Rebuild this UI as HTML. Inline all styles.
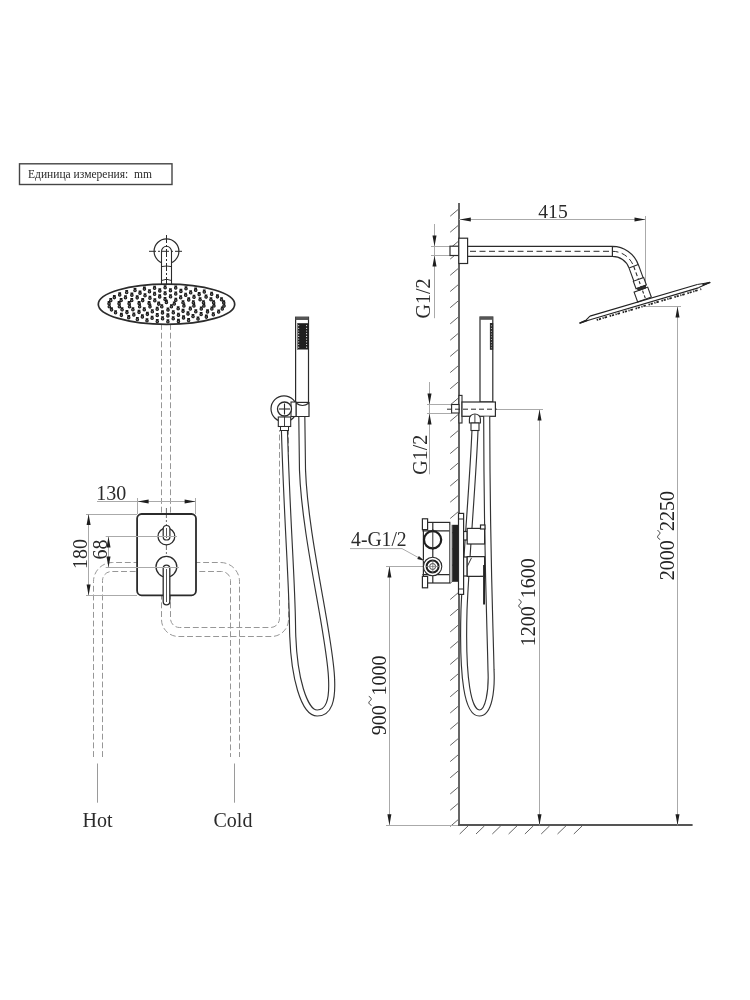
<!DOCTYPE html>
<html><head><meta charset="utf-8"><style>
html,body{margin:0;padding:0;background:#fff;width:750px;height:1000px;overflow:hidden}
svg{display:block;will-change:transform}
</style></head><body>
<svg width="750" height="1000" viewBox="0 0 750 1000">
<rect x="19.5" y="163.8" width="152.5" height="20.7" fill="none" stroke="#454545" stroke-width="1.4"/>
<text x="28" y="178.3" font-family="Liberation Serif" font-size="12.6" fill="#2a2a2a" text-anchor="start" textLength="124" lengthAdjust="spacingAndGlyphs">Единица измерения:&#160; mm</text>
<g fill="none" stroke="#979797" stroke-width="1" stroke-dasharray="5.9,2.8">
<path d="M161.5,324 V619.5 A17,17 0 0 0 178.5,636.5 H271.5 A17,17 0 0 0 288.5,619.5 V430"/>
<path d="M170.5,324 V618.5 A9,9 0 0 0 179.5,627.5 H270.5 A9,9 0 0 0 279.5,618.5 V430"/>
<path d="M93.5,757 V581.5 A19,19 0 0 1 112.5,562.5 H220.5 A19,19 0 0 1 239.5,581.5 V757"/>
<path d="M102.5,757 V580.5 A9,9 0 0 1 111.5,571.5 H221.5 A9,9 0 0 1 230.5,580.5 V757"/>
</g>
<line x1="97.5" y1="763.5" x2="97.5" y2="802.7" stroke="#9a9a9a" stroke-width="1" />
<line x1="234.5" y1="763.5" x2="234.5" y2="802.7" stroke="#9a9a9a" stroke-width="1" />
<text x="82.5" y="826.6" font-family="Liberation Serif" font-size="20" fill="#2a2a2a" text-anchor="start">Hot</text>
<text x="213.5" y="826.6" font-family="Liberation Serif" font-size="20" fill="#2a2a2a" text-anchor="start">Cold</text>
<circle cx="166.5" cy="251.3" r="12.4" fill="none" stroke="#2b2b2b" stroke-width="1.2"/>
<path d="M161.5,285 V251.3 A5,5 0 0 1 171.5,251.3 V285" fill="white" stroke="#2b2b2b" stroke-width="1.1"/>
<line x1="149" y1="251.3" x2="184" y2="251.3" stroke="#2b2b2b" stroke-width="1" stroke-dasharray="7,2,2,2"/>
<path d="M161.5,266.6 Q166.5,265.4 171.5,266.6 M161.5,280.5 Q166.5,278 171.5,280.5" fill="none" stroke="#2b2b2b" stroke-width="1"/>
<line x1="166.5" y1="235" x2="166.5" y2="300" stroke="#2b2b2b" stroke-width="1" stroke-dasharray="8,2,2,2"/>
<ellipse cx="166.5" cy="304.2" rx="68.2" ry="20.1" fill="white" stroke="#2b2b2b" stroke-width="1.7"/>
<path d="M225.22,305.96a1.25,1.25 0 1 0 -2.5,0a1.25,1.25 0 1 0 2.5,0M222.57,303.96h2.8 M223.51,309.06a1.25,1.25 0 1 0 -2.5,0a1.25,1.25 0 1 0 2.5,0M220.86,307.06h2.8 M219.91,312.01a1.25,1.25 0 1 0 -2.5,0a1.25,1.25 0 1 0 2.5,0M217.26,310.01h2.8 M214.54,314.71a1.25,1.25 0 1 0 -2.5,0a1.25,1.25 0 1 0 2.5,0M211.89,312.71h2.8 M207.57,317.08a1.25,1.25 0 1 0 -2.5,0a1.25,1.25 0 1 0 2.5,0M204.92,315.08h2.8 M199.24,319.03a1.25,1.25 0 1 0 -2.5,0a1.25,1.25 0 1 0 2.5,0M196.59,317.03h2.8 M189.84,320.49a1.25,1.25 0 1 0 -2.5,0a1.25,1.25 0 1 0 2.5,0M187.19,318.49h2.8 M179.69,321.42a1.25,1.25 0 1 0 -2.5,0a1.25,1.25 0 1 0 2.5,0M177.04,319.42h2.8 M169.13,321.79a1.25,1.25 0 1 0 -2.5,0a1.25,1.25 0 1 0 2.5,0M166.48,319.79h2.8 M158.53,321.57a1.25,1.25 0 1 0 -2.5,0a1.25,1.25 0 1 0 2.5,0M155.88,319.57h2.8 M148.24,320.79a1.25,1.25 0 1 0 -2.5,0a1.25,1.25 0 1 0 2.5,0M145.59,318.79h2.8 M138.61,319.46a1.25,1.25 0 1 0 -2.5,0a1.25,1.25 0 1 0 2.5,0M135.96,317.46h2.8 M129.98,317.63a1.25,1.25 0 1 0 -2.5,0a1.25,1.25 0 1 0 2.5,0M127.33,315.63h2.8 M122.63,315.36a1.25,1.25 0 1 0 -2.5,0a1.25,1.25 0 1 0 2.5,0M119.98,313.36h2.8 M116.82,312.74a1.25,1.25 0 1 0 -2.5,0a1.25,1.25 0 1 0 2.5,0M114.17,310.74h2.8 M112.74,309.84a1.25,1.25 0 1 0 -2.5,0a1.25,1.25 0 1 0 2.5,0M110.09,307.84h2.8 M110.54,306.77a1.25,1.25 0 1 0 -2.5,0a1.25,1.25 0 1 0 2.5,0M107.89,304.77h2.8 M110.28,303.64a1.25,1.25 0 1 0 -2.5,0a1.25,1.25 0 1 0 2.5,0M107.63,301.64h2.8 M111.99,300.54a1.25,1.25 0 1 0 -2.5,0a1.25,1.25 0 1 0 2.5,0M109.34,298.54h2.8 M115.59,297.59a1.25,1.25 0 1 0 -2.5,0a1.25,1.25 0 1 0 2.5,0M112.94,295.59h2.8 M120.96,294.89a1.25,1.25 0 1 0 -2.5,0a1.25,1.25 0 1 0 2.5,0M118.31,292.89h2.8 M127.93,292.52a1.25,1.25 0 1 0 -2.5,0a1.25,1.25 0 1 0 2.5,0M125.28,290.52h2.8 M136.26,290.57a1.25,1.25 0 1 0 -2.5,0a1.25,1.25 0 1 0 2.5,0M133.61,288.57h2.8 M145.66,289.11a1.25,1.25 0 1 0 -2.5,0a1.25,1.25 0 1 0 2.5,0M143.01,287.11h2.8 M155.81,288.18a1.25,1.25 0 1 0 -2.5,0a1.25,1.25 0 1 0 2.5,0M153.16,286.18h2.8 M166.37,287.81a1.25,1.25 0 1 0 -2.5,0a1.25,1.25 0 1 0 2.5,0M163.72,285.81h2.8 M176.97,288.03a1.25,1.25 0 1 0 -2.5,0a1.25,1.25 0 1 0 2.5,0M174.32,286.03h2.8 M187.26,288.81a1.25,1.25 0 1 0 -2.5,0a1.25,1.25 0 1 0 2.5,0M184.61,286.81h2.8 M196.89,290.14a1.25,1.25 0 1 0 -2.5,0a1.25,1.25 0 1 0 2.5,0M194.24,288.14h2.8 M205.52,291.97a1.25,1.25 0 1 0 -2.5,0a1.25,1.25 0 1 0 2.5,0M202.87,289.97h2.8 M212.87,294.24a1.25,1.25 0 1 0 -2.5,0a1.25,1.25 0 1 0 2.5,0M210.22,292.24h2.8 M218.68,296.86a1.25,1.25 0 1 0 -2.5,0a1.25,1.25 0 1 0 2.5,0M216.03,294.86h2.8 M222.76,299.76a1.25,1.25 0 1 0 -2.5,0a1.25,1.25 0 1 0 2.5,0M220.11,297.76h2.8 M224.96,302.83a1.25,1.25 0 1 0 -2.5,0a1.25,1.25 0 1 0 2.5,0M222.31,300.83h2.8 M215.19,305.96a1.25,1.25 0 1 0 -2.5,0a1.25,1.25 0 1 0 2.5,0M212.54,303.96h2.8 M213.12,309.05a1.25,1.25 0 1 0 -2.5,0a1.25,1.25 0 1 0 2.5,0M210.47,307.05h2.8 M208.78,311.92a1.25,1.25 0 1 0 -2.5,0a1.25,1.25 0 1 0 2.5,0M206.13,309.92h2.8 M202.38,314.44a1.25,1.25 0 1 0 -2.5,0a1.25,1.25 0 1 0 2.5,0M199.73,312.44h2.8 M194.24,316.47a1.25,1.25 0 1 0 -2.5,0a1.25,1.25 0 1 0 2.5,0M191.59,314.47h2.8 M184.78,317.91a1.25,1.25 0 1 0 -2.5,0a1.25,1.25 0 1 0 2.5,0M182.13,315.91h2.8 M174.46,318.70a1.25,1.25 0 1 0 -2.5,0a1.25,1.25 0 1 0 2.5,0M171.81,316.70h2.8 M163.80,318.79a1.25,1.25 0 1 0 -2.5,0a1.25,1.25 0 1 0 2.5,0M161.15,316.79h2.8 M153.35,318.18a1.25,1.25 0 1 0 -2.5,0a1.25,1.25 0 1 0 2.5,0M150.70,316.18h2.8 M143.61,316.90a1.25,1.25 0 1 0 -2.5,0a1.25,1.25 0 1 0 2.5,0M140.96,314.90h2.8 M135.09,315.01a1.25,1.25 0 1 0 -2.5,0a1.25,1.25 0 1 0 2.5,0M132.44,313.01h2.8 M128.20,312.61a1.25,1.25 0 1 0 -2.5,0a1.25,1.25 0 1 0 2.5,0M125.55,310.61h2.8 M123.30,309.82a1.25,1.25 0 1 0 -2.5,0a1.25,1.25 0 1 0 2.5,0M120.65,307.82h2.8 M120.62,306.78a1.25,1.25 0 1 0 -2.5,0a1.25,1.25 0 1 0 2.5,0M117.97,304.78h2.8 M120.31,303.64a1.25,1.25 0 1 0 -2.5,0a1.25,1.25 0 1 0 2.5,0M117.66,301.64h2.8 M122.38,300.55a1.25,1.25 0 1 0 -2.5,0a1.25,1.25 0 1 0 2.5,0M119.73,298.55h2.8 M126.72,297.68a1.25,1.25 0 1 0 -2.5,0a1.25,1.25 0 1 0 2.5,0M124.07,295.68h2.8 M133.12,295.16a1.25,1.25 0 1 0 -2.5,0a1.25,1.25 0 1 0 2.5,0M130.47,293.16h2.8 M141.26,293.13a1.25,1.25 0 1 0 -2.5,0a1.25,1.25 0 1 0 2.5,0M138.61,291.13h2.8 M150.72,291.69a1.25,1.25 0 1 0 -2.5,0a1.25,1.25 0 1 0 2.5,0M148.07,289.69h2.8 M161.04,290.90a1.25,1.25 0 1 0 -2.5,0a1.25,1.25 0 1 0 2.5,0M158.39,288.90h2.8 M171.70,290.81a1.25,1.25 0 1 0 -2.5,0a1.25,1.25 0 1 0 2.5,0M169.05,288.81h2.8 M182.15,291.42a1.25,1.25 0 1 0 -2.5,0a1.25,1.25 0 1 0 2.5,0M179.50,289.42h2.8 M191.89,292.70a1.25,1.25 0 1 0 -2.5,0a1.25,1.25 0 1 0 2.5,0M189.24,290.70h2.8 M200.41,294.59a1.25,1.25 0 1 0 -2.5,0a1.25,1.25 0 1 0 2.5,0M197.76,292.59h2.8 M207.30,296.99a1.25,1.25 0 1 0 -2.5,0a1.25,1.25 0 1 0 2.5,0M204.65,294.99h2.8 M212.20,299.78a1.25,1.25 0 1 0 -2.5,0a1.25,1.25 0 1 0 2.5,0M209.55,297.78h2.8 M214.88,302.82a1.25,1.25 0 1 0 -2.5,0a1.25,1.25 0 1 0 2.5,0M212.23,300.82h2.8 M205.14,305.97a1.25,1.25 0 1 0 -2.5,0a1.25,1.25 0 1 0 2.5,0M202.49,303.97h2.8 M202.51,309.03a1.25,1.25 0 1 0 -2.5,0a1.25,1.25 0 1 0 2.5,0M199.86,307.03h2.8 M197.06,311.75a1.25,1.25 0 1 0 -2.5,0a1.25,1.25 0 1 0 2.5,0M194.41,309.75h2.8 M189.24,313.90a1.25,1.25 0 1 0 -2.5,0a1.25,1.25 0 1 0 2.5,0M186.59,311.90h2.8 M179.67,315.32a1.25,1.25 0 1 0 -2.5,0a1.25,1.25 0 1 0 2.5,0M177.02,313.32h2.8 M169.15,315.88a1.25,1.25 0 1 0 -2.5,0a1.25,1.25 0 1 0 2.5,0M166.50,313.88h2.8 M158.50,315.55a1.25,1.25 0 1 0 -2.5,0a1.25,1.25 0 1 0 2.5,0M155.85,313.55h2.8 M148.61,314.35a1.25,1.25 0 1 0 -2.5,0a1.25,1.25 0 1 0 2.5,0M145.96,312.35h2.8 M140.27,312.37a1.25,1.25 0 1 0 -2.5,0a1.25,1.25 0 1 0 2.5,0M137.62,310.37h2.8 M134.15,309.78a1.25,1.25 0 1 0 -2.5,0a1.25,1.25 0 1 0 2.5,0M131.50,307.78h2.8 M130.76,306.79a1.25,1.25 0 1 0 -2.5,0a1.25,1.25 0 1 0 2.5,0M128.11,304.79h2.8 M130.36,303.63a1.25,1.25 0 1 0 -2.5,0a1.25,1.25 0 1 0 2.5,0M127.71,301.63h2.8 M132.99,300.57a1.25,1.25 0 1 0 -2.5,0a1.25,1.25 0 1 0 2.5,0M130.34,298.57h2.8 M138.44,297.85a1.25,1.25 0 1 0 -2.5,0a1.25,1.25 0 1 0 2.5,0M135.79,295.85h2.8 M146.26,295.70a1.25,1.25 0 1 0 -2.5,0a1.25,1.25 0 1 0 2.5,0M143.61,293.70h2.8 M155.83,294.28a1.25,1.25 0 1 0 -2.5,0a1.25,1.25 0 1 0 2.5,0M153.18,292.28h2.8 M166.35,293.72a1.25,1.25 0 1 0 -2.5,0a1.25,1.25 0 1 0 2.5,0M163.70,291.72h2.8 M177.00,294.05a1.25,1.25 0 1 0 -2.5,0a1.25,1.25 0 1 0 2.5,0M174.35,292.05h2.8 M186.89,295.25a1.25,1.25 0 1 0 -2.5,0a1.25,1.25 0 1 0 2.5,0M184.24,293.25h2.8 M195.23,297.23a1.25,1.25 0 1 0 -2.5,0a1.25,1.25 0 1 0 2.5,0M192.58,295.23h2.8 M201.35,299.82a1.25,1.25 0 1 0 -2.5,0a1.25,1.25 0 1 0 2.5,0M198.70,297.82h2.8 M204.74,302.81a1.25,1.25 0 1 0 -2.5,0a1.25,1.25 0 1 0 2.5,0M202.09,300.81h2.8 M195.16,305.98a1.25,1.25 0 1 0 -2.5,0a1.25,1.25 0 1 0 2.5,0M192.51,303.98h2.8 M191.54,308.99a1.25,1.25 0 1 0 -2.5,0a1.25,1.25 0 1 0 2.5,0M188.89,306.99h2.8 M184.29,311.35a1.25,1.25 0 1 0 -2.5,0a1.25,1.25 0 1 0 2.5,0M181.64,309.35h2.8 M174.53,312.72a1.25,1.25 0 1 0 -2.5,0a1.25,1.25 0 1 0 2.5,0M171.88,310.72h2.8 M163.74,312.89a1.25,1.25 0 1 0 -2.5,0a1.25,1.25 0 1 0 2.5,0M161.09,310.89h2.8 M153.56,311.82a1.25,1.25 0 1 0 -2.5,0a1.25,1.25 0 1 0 2.5,0M150.91,309.82h2.8 M145.53,309.68a1.25,1.25 0 1 0 -2.5,0a1.25,1.25 0 1 0 2.5,0M142.88,307.68h2.8 M140.89,306.80a1.25,1.25 0 1 0 -2.5,0a1.25,1.25 0 1 0 2.5,0M138.24,304.80h2.8 M140.34,303.62a1.25,1.25 0 1 0 -2.5,0a1.25,1.25 0 1 0 2.5,0M137.69,301.62h2.8 M143.96,300.61a1.25,1.25 0 1 0 -2.5,0a1.25,1.25 0 1 0 2.5,0M141.31,298.61h2.8 M151.21,298.25a1.25,1.25 0 1 0 -2.5,0a1.25,1.25 0 1 0 2.5,0M148.56,296.25h2.8 M160.97,296.88a1.25,1.25 0 1 0 -2.5,0a1.25,1.25 0 1 0 2.5,0M158.32,294.88h2.8 M171.76,296.71a1.25,1.25 0 1 0 -2.5,0a1.25,1.25 0 1 0 2.5,0M169.11,294.71h2.8 M181.94,297.78a1.25,1.25 0 1 0 -2.5,0a1.25,1.25 0 1 0 2.5,0M179.29,295.78h2.8 M189.97,299.92a1.25,1.25 0 1 0 -2.5,0a1.25,1.25 0 1 0 2.5,0M187.32,297.92h2.8 M194.61,302.80a1.25,1.25 0 1 0 -2.5,0a1.25,1.25 0 1 0 2.5,0M191.96,300.80h2.8 M185.17,306.02a1.25,1.25 0 1 0 -2.5,0a1.25,1.25 0 1 0 2.5,0M182.52,304.02h2.8 M179.42,308.80a1.25,1.25 0 1 0 -2.5,0a1.25,1.25 0 1 0 2.5,0M176.77,306.80h2.8 M169.21,310.06a1.25,1.25 0 1 0 -2.5,0a1.25,1.25 0 1 0 2.5,0M166.56,308.06h2.8 M158.45,309.31a1.25,1.25 0 1 0 -2.5,0a1.25,1.25 0 1 0 2.5,0M155.80,307.31h2.8 M151.23,306.84a1.25,1.25 0 1 0 -2.5,0a1.25,1.25 0 1 0 2.5,0M148.58,304.84h2.8 M150.33,303.58a1.25,1.25 0 1 0 -2.5,0a1.25,1.25 0 1 0 2.5,0M147.68,301.58h2.8 M156.08,300.80a1.25,1.25 0 1 0 -2.5,0a1.25,1.25 0 1 0 2.5,0M153.43,298.80h2.8 M166.29,299.54a1.25,1.25 0 1 0 -2.5,0a1.25,1.25 0 1 0 2.5,0M163.64,297.54h2.8 M177.05,300.29a1.25,1.25 0 1 0 -2.5,0a1.25,1.25 0 1 0 2.5,0M174.40,298.29h2.8 M184.27,302.76a1.25,1.25 0 1 0 -2.5,0a1.25,1.25 0 1 0 2.5,0M181.62,300.76h2.8 M172.65,306.74a1.25,1.25 0 1 0 -2.5,0a1.25,1.25 0 1 0 2.5,0M170.00,304.74h2.8 M163.01,306.77a1.25,1.25 0 1 0 -2.5,0a1.25,1.25 0 1 0 2.5,0M160.36,304.77h2.8 M159.92,304.08a1.25,1.25 0 1 0 -2.5,0a1.25,1.25 0 1 0 2.5,0M157.27,302.08h2.8 M167.65,302.38a1.25,1.25 0 1 0 -2.5,0a1.25,1.25 0 1 0 2.5,0M165.00,300.38h2.8 M175.52,304.02a1.25,1.25 0 1 0 -2.5,0a1.25,1.25 0 1 0 2.5,0M172.87,302.02h2.8" fill="#777" stroke="#1a1a1a" stroke-width="1.1"/>
<rect x="137.1" y="514" width="58.9" height="81.3" rx="4.5" fill="white" stroke="#2b2b2b" stroke-width="1.8"/>
<line x1="166.4" y1="508" x2="166.4" y2="604" stroke="#2b2b2b" stroke-width="0.7" stroke-dasharray="10,2,2,2"/>
<circle cx="166.4" cy="536.4" r="8.4" fill="white" stroke="#2b2b2b" stroke-width="1.3"/>
<rect x="163.2" y="525.5" width="6.7" height="14.5" rx="3.35" fill="white" stroke="#2b2b2b" stroke-width="1.2"/>
<line x1="166.5" y1="528" x2="166.5" y2="538" stroke="#2b2b2b" stroke-width="0.8" />
<circle cx="166.4" cy="566.8" r="10.4" fill="white" stroke="#2b2b2b" stroke-width="1.3"/>
<rect x="163.2" y="565.2" width="6.6" height="39.7" rx="3.3" fill="white" stroke="#2b2b2b" stroke-width="1.3"/>
<line x1="166.5" y1="569" x2="166.5" y2="602" stroke="#2b2b2b" stroke-width="0.8" />
<line x1="97" y1="501.5" x2="196" y2="501.5" stroke="#aaaaaa" stroke-width="1" />
<line x1="137.5" y1="498" x2="137.5" y2="514" stroke="#aaaaaa" stroke-width="1" />
<line x1="195.5" y1="498" x2="195.5" y2="514" stroke="#aaaaaa" stroke-width="1" />
<path d="M137.60,501.50 L148.60,499.50 L148.60,503.50Z" fill="#1e1e1e"/>
<path d="M195.60,501.50 L184.60,503.50 L184.60,499.50Z" fill="#1e1e1e"/>
<text x="96.2" y="499.6" font-family="Liberation Serif" font-size="20" fill="#2a2a2a" text-anchor="start">130</text>
<line x1="88.5" y1="514" x2="88.5" y2="595.3" stroke="#aaaaaa" stroke-width="1" />
<line x1="86" y1="514.5" x2="137" y2="514.5" stroke="#aaaaaa" stroke-width="1" />
<line x1="86" y1="595.5" x2="137" y2="595.5" stroke="#aaaaaa" stroke-width="1" />
<path d="M88.60,514.00 L90.60,525.00 L86.60,525.00Z" fill="#1e1e1e"/>
<path d="M88.60,595.40 L86.60,584.40 L90.60,584.40Z" fill="#1e1e1e"/>
<text transform="translate(86.6,568.9) rotate(-90)" font-family="Liberation Serif" font-size="20" fill="#2a2a2a" text-anchor="start">180</text>
<line x1="108.5" y1="536.4" x2="108.5" y2="567.4" stroke="#aaaaaa" stroke-width="1" />
<line x1="105.7" y1="536.5" x2="177" y2="536.5" stroke="#aaaaaa" stroke-width="1" />
<line x1="105.7" y1="567.5" x2="179" y2="567.5" stroke="#aaaaaa" stroke-width="1" />
<path d="M108.50,536.40 L110.50,547.40 L106.50,547.40Z" fill="#1e1e1e"/>
<path d="M108.50,567.40 L106.50,556.40 L110.50,556.40Z" fill="#1e1e1e"/>
<text transform="translate(106.6,559.6) rotate(-90)" font-family="Liberation Serif" font-size="20" fill="#2a2a2a" text-anchor="start">68</text>
<path d="M284.4,429 C287,520 292,580 292.5,625 C293,680 305,713 317.2,713 C329,713 332.5,700 331.6,680 C331,640 305,540 302.5,470 L301.8,416" fill="none" stroke="#333" stroke-width="7.2"/>
<path d="M284.4,429 C287,520 292,580 292.5,625 C293,680 305,713 317.2,713 C329,713 332.5,700 331.6,680 C331,640 305,540 302.5,470 L301.8,416" fill="none" stroke="white" stroke-width="4.9"/>
<rect x="295.6" y="317.2" width="12.9" height="85.2" fill="white" stroke="#2b2b2b" stroke-width="1.2"/>
<rect x="295.5" y="317" width="13" height="3" fill="#555"/>
<rect x="297" y="323.2" width="11.4" height="26.3" fill="#1e1e1e"/>
<rect x="297" y="323.2" width="1" height="26.3" fill="#777"/>
<circle cx="298.7" cy="325.60" r="0.6" fill="#e8e8e8"/><circle cx="306.6" cy="325.60" r="0.6" fill="#e8e8e8"/>
<circle cx="298.7" cy="328.30" r="0.6" fill="#e8e8e8"/><circle cx="306.6" cy="328.30" r="0.6" fill="#e8e8e8"/>
<circle cx="298.7" cy="331.00" r="0.6" fill="#e8e8e8"/><circle cx="306.6" cy="331.00" r="0.6" fill="#e8e8e8"/>
<circle cx="298.7" cy="333.70" r="0.6" fill="#e8e8e8"/><circle cx="306.6" cy="333.70" r="0.6" fill="#e8e8e8"/>
<circle cx="298.7" cy="336.40" r="0.6" fill="#e8e8e8"/><circle cx="306.6" cy="336.40" r="0.6" fill="#e8e8e8"/>
<circle cx="298.7" cy="339.10" r="0.6" fill="#e8e8e8"/><circle cx="306.6" cy="339.10" r="0.6" fill="#e8e8e8"/>
<circle cx="298.7" cy="341.80" r="0.6" fill="#e8e8e8"/><circle cx="306.6" cy="341.80" r="0.6" fill="#e8e8e8"/>
<circle cx="298.7" cy="344.50" r="0.6" fill="#e8e8e8"/><circle cx="306.6" cy="344.50" r="0.6" fill="#e8e8e8"/>
<circle cx="298.7" cy="347.20" r="0.6" fill="#e8e8e8"/><circle cx="306.6" cy="347.20" r="0.6" fill="#e8e8e8"/>
<circle cx="284" cy="408.8" r="13" fill="white" stroke="#2b2b2b" stroke-width="1.2"/>
<path d="M296,416.5 V403 Q302.5,408 309,403 V416.5 Z" fill="white" stroke="#2b2b2b" stroke-width="1.2"/>
<rect x="291" y="402" width="5" height="14.5" fill="white" stroke="#2b2b2b" stroke-width="1.1"/>
<circle cx="284.5" cy="409" r="7" fill="white" stroke="#2b2b2b" stroke-width="1.3"/>
<line x1="279" y1="409" x2="290" y2="409" stroke="#2b2b2b" stroke-width="1.1" />
<line x1="284.5" y1="403.5" x2="284.5" y2="414.5" stroke="#2b2b2b" stroke-width="1.1" />
<rect x="278.3" y="417" width="12.4" height="9.5" fill="white" stroke="#2b2b2b" stroke-width="1.1"/>
<line x1="284.5" y1="417" x2="284.5" y2="426.5" stroke="#2b2b2b" stroke-width="0.9" />
<rect x="280.5" y="426.5" width="8" height="4" fill="white" stroke="#2b2b2b" stroke-width="1"/>
<path d="M450.2,216.2 L458.7,209.0 M450.2,232.2 L458.7,225.0 M450.2,248.2 L458.7,241.0 M450.2,259.1 L458.7,251.9 M450.2,275.3 L458.7,268.1 M450.2,291.5 L458.7,284.3 M450.2,307.7 L458.7,300.5 M450.2,323.9 L458.7,316.7 M450.2,340.2 L458.7,333.0 M450.2,356.4 L458.7,349.2 M450.2,372.6 L458.7,365.4 M450.2,388.8 L458.7,381.6 M450.2,405.0 L458.7,397.8 M450.2,421.2 L458.7,414.0 M450.2,437.4 L458.7,430.2 M450.2,453.6 L458.7,446.4 M450.2,469.8 L458.7,462.6 M450.2,486.0 L458.7,478.8 M450.2,502.2 L458.7,495.1 M450.2,518.5 L458.7,511.3 M450.2,534.7 L458.7,527.5 M450.2,550.9 L458.7,543.7 M450.2,567.1 L458.7,559.9 M450.2,583.3 L458.7,576.1 M450.2,599.5 L458.7,592.3 M450.2,615.7 L458.7,608.5 M450.2,631.9 L458.7,624.7 M450.2,648.1 L458.7,640.9 M450.2,664.4 L458.7,657.1 M450.2,680.6 L458.7,673.4 M450.2,696.8 L458.7,689.6 M450.2,713.0 L458.7,705.8 M450.2,729.2 L458.7,722.0 M450.2,745.4 L458.7,738.2 M450.2,761.6 L458.7,754.4 M450.2,777.8 L458.7,770.6 M450.2,794.0 L458.7,786.8 M450.2,810.2 L458.7,803.0 M450.2,826.5 L458.7,819.2" stroke="#666" stroke-width="1" fill="none"/>
<path d="M459.7,834 L468.2,825.8 M476.0,834 L484.5,825.8 M492.3,834 L500.8,825.8 M508.6,834 L517.1,825.8 M524.9,834 L533.4,825.8 M541.2,834 L549.7,825.8 M557.5,834 L566.0,825.8 M573.8,834 L582.3,825.8" stroke="#666" stroke-width="1" fill="none"/>
<line x1="459" y1="203" x2="459" y2="826" stroke="#666" stroke-width="2" />
<line x1="458" y1="825" x2="692.6" y2="825" stroke="#555" stroke-width="2" />
<line x1="386" y1="825.5" x2="458" y2="825.5" stroke="#aaaaaa" stroke-width="1" />
<line x1="389.5" y1="566.5" x2="389.5" y2="825.3" stroke="#aaaaaa" stroke-width="1" />
<line x1="386" y1="566.5" x2="432" y2="566.5" stroke="#aaaaaa" stroke-width="1" />
<path d="M389.40,566.50 L391.40,577.50 L387.40,577.50Z" fill="#1e1e1e"/>
<path d="M389.40,825.30 L387.40,814.30 L391.40,814.30Z" fill="#1e1e1e"/>
<text transform="translate(385.6,735.3) rotate(-90)" font-family="Liberation Serif" font-size="20" fill="#222">900</text>
<text transform="translate(385.6,695.6) rotate(-90)" font-family="Liberation Serif" font-size="20" fill="#222">1000</text>
<path transform="translate(370.3,700.9) rotate(-90)" d="M-4.5,1.2 C-3,-2.2 -1,-1.8 0,-0.3 C1,1.2 3,1.8 4.5,-1.5" fill="none" stroke="#333" stroke-width="1"/>
<line x1="539.5" y1="409.2" x2="539.5" y2="825.3" stroke="#aaaaaa" stroke-width="1" />
<line x1="497" y1="409.5" x2="543" y2="409.5" stroke="#aaaaaa" stroke-width="1" />
<path d="M539.50,409.50 L541.50,420.50 L537.50,420.50Z" fill="#1e1e1e"/>
<path d="M539.50,825.30 L537.50,814.30 L541.50,814.30Z" fill="#1e1e1e"/>
<text transform="translate(535.2,646.3) rotate(-90)" font-family="Liberation Serif" font-size="20" fill="#222">1200</text>
<text transform="translate(535.2,598.3) rotate(-90)" font-family="Liberation Serif" font-size="20" fill="#222">1600</text>
<path transform="translate(520.2,604) rotate(-90)" d="M-4.5,1.2 C-3,-2.2 -1,-1.8 0,-0.3 C1,1.2 3,1.8 4.5,-1.5" fill="none" stroke="#333" stroke-width="1"/>
<line x1="677.5" y1="306" x2="677.5" y2="825.3" stroke="#aaaaaa" stroke-width="1" />
<line x1="645.7" y1="306.5" x2="681" y2="306.5" stroke="#aaaaaa" stroke-width="1" />
<path d="M677.50,306.50 L679.50,317.50 L675.50,317.50Z" fill="#1e1e1e"/>
<path d="M677.50,825.30 L675.50,814.30 L679.50,814.30Z" fill="#1e1e1e"/>
<text transform="translate(673.7,580.2) rotate(-90)" font-family="Liberation Serif" font-size="20" fill="#222">2000</text>
<text transform="translate(673.7,531.1) rotate(-90)" font-family="Liberation Serif" font-size="20" fill="#222">2250</text>
<path transform="translate(659,535) rotate(-90)" d="M-4.5,1.2 C-3,-2.2 -1,-1.8 0,-0.3 C1,1.2 3,1.8 4.5,-1.5" fill="none" stroke="#333" stroke-width="1"/>
<line x1="459" y1="219.5" x2="645.5" y2="219.5" stroke="#aaaaaa" stroke-width="1" />
<line x1="645.5" y1="216" x2="645.5" y2="284" stroke="#aaaaaa" stroke-width="1" />
<path d="M459.80,219.50 L470.80,217.50 L470.80,221.50Z" fill="#1e1e1e"/>
<path d="M645.50,219.50 L634.50,221.50 L634.50,217.50Z" fill="#1e1e1e"/>
<text x="538.3" y="217.7" font-family="Liberation Serif" font-size="19.6" fill="#2a2a2a" text-anchor="start">415</text>
<line x1="434.5" y1="224" x2="434.5" y2="318.2" stroke="#aaaaaa" stroke-width="1" />
<line x1="431" y1="246.5" x2="450" y2="246.5" stroke="#aaaaaa" stroke-width="1" />
<line x1="431" y1="255.5" x2="450" y2="255.5" stroke="#aaaaaa" stroke-width="1" />
<path d="M434.50,246.50 L432.50,235.50 L436.50,235.50Z" fill="#1e1e1e"/>
<path d="M434.50,255.50 L436.50,266.50 L432.50,266.50Z" fill="#1e1e1e"/>
<text transform="translate(430.3,318.4) rotate(-90)" font-family="Liberation Serif" font-size="20" fill="#2a2a2a" text-anchor="start">G1/2</text>
<line x1="429.5" y1="382" x2="429.5" y2="474.3" stroke="#aaaaaa" stroke-width="1" />
<line x1="427" y1="404.5" x2="451.6" y2="404.5" stroke="#aaaaaa" stroke-width="1" />
<line x1="427" y1="413.5" x2="451.6" y2="413.5" stroke="#aaaaaa" stroke-width="1" />
<path d="M429.50,404.50 L427.50,393.50 L431.50,393.50Z" fill="#1e1e1e"/>
<path d="M429.50,413.50 L431.50,424.50 L427.50,424.50Z" fill="#1e1e1e"/>
<text transform="translate(427.2,474.8) rotate(-90)" font-family="Liberation Serif" font-size="20" fill="#2a2a2a" text-anchor="start">G1/2</text>
<rect x="450" y="246.2" width="8.8" height="9.3" fill="white" stroke="#2b2b2b" stroke-width="1.2"/>
<rect x="458.8" y="238.2" width="8.8" height="25.3" fill="white" stroke="#2b2b2b" stroke-width="1.2"/>
<path d="M467.6,246.4 H612.4 A27.6,27.6 0 0 1 638.3,264.8 M467.6,256.3 H612.4 A17.7,17.7 0 0 1 629.0,267.9 M612.4,246.4 V256.3" fill="none" stroke="#2b2b2b" stroke-width="1.2"/>
<path d="M470,251.3 H612.4 A22.6,22.6 0 0 1 633.6,266.3" fill="none" stroke="#2b2b2b" stroke-width="1" stroke-dasharray="6,3.5"/>
<g transform="translate(629,267.9) rotate(-20)" fill="white" stroke="#2b2b2b" stroke-width="1.1">
<path d="M0,0 H9.9 M0,0 V14 M9.9,0 V14"/>
<path d="M4.95,0 V14" stroke-dasharray="4,2.5" fill="none"/>
<rect x="-0.5" y="14" width="11" height="8"/>
<rect x="-3.5" y="24.5" width="14.5" height="10.5"/>
<path d="M0.5,22 L9.5,22 L8.5,24.5 L1.5,24.5Z" fill="#333"/>
<path d="M4.95,16 V34" stroke-dasharray="3,2" fill="none"/>
</g>
<g transform="translate(645,299.9) rotate(-16.4)">
<path d="M-57.4,0 H54.5 M-57.4,3.5 H54.5" fill="none" stroke="#222" stroke-width="1.1"/>
<path d="M-57.4,0 L-62,2.6 L-68.8,3.7 L-57.4,3.5 M54.5,0 L66.9,1.6 L60,2.6 L54.5,3.5" fill="white" stroke="#222" stroke-width="1.1" stroke-linejoin="round"/>
<path d="M-62.5,3.4 L-68.8,3.8 M60,1.9 L67,1.6" fill="none" stroke="#222" stroke-width="1.7" stroke-linecap="round"/>
<path d="M-52,5.6 H57" fill="none" stroke="#222" stroke-width="1.8" stroke-dasharray="1.5,0.8,2.2,1.6,1.2,0.9,2.5,2.8"/>
</g>
<rect x="480" y="317" width="12.8" height="85" fill="white" stroke="#2b2b2b" stroke-width="1.2"/>
<rect x="489.9" y="323" width="3.3" height="26.8" fill="#2a2a2a"/>
<rect x="480" y="317" width="12.8" height="2.8" fill="#555"/>
<circle cx="491.4" cy="325.80" r="0.55" fill="#ddd"/>
<circle cx="491.4" cy="328.55" r="0.55" fill="#ddd"/>
<circle cx="491.4" cy="331.30" r="0.55" fill="#ddd"/>
<circle cx="491.4" cy="334.05" r="0.55" fill="#ddd"/>
<circle cx="491.4" cy="336.80" r="0.55" fill="#ddd"/>
<circle cx="491.4" cy="339.55" r="0.55" fill="#ddd"/>
<circle cx="491.4" cy="342.30" r="0.55" fill="#ddd"/>
<circle cx="491.4" cy="345.05" r="0.55" fill="#ddd"/>
<circle cx="491.4" cy="347.80" r="0.55" fill="#ddd"/>
<rect x="459" y="395.4" width="3" height="27.6" fill="white" stroke="#2b2b2b" stroke-width="1.1"/>
<rect x="451.6" y="404.5" width="7.4" height="8.5" fill="white" stroke="#2b2b2b" stroke-width="1.1"/>
<rect x="462" y="402" width="33.4" height="14.3" fill="white" stroke="#2b2b2b" stroke-width="1.2"/>
<line x1="447" y1="409.2" x2="497" y2="409.2" stroke="#2b2b2b" stroke-width="1" stroke-dasharray="5,3"/>
<path d="M475,430 C473,480 466,560 464,610 C462,680 468,713 479.4,713 C489,713 492,690 491,670 C490,620 487,560 486.7,416.5" fill="none" stroke="#333" stroke-width="7.2"/>
<path d="M475,430 C473,480 466,560 464,610 C462,680 468,713 479.4,713 C489,713 492,690 491,670 C490,620 487,560 486.7,416.5" fill="none" stroke="white" stroke-width="4.9"/>
<path d="M469.4,423 V419 A5.5,5 0 0 1 480.4,419 V423 Z" fill="white" stroke="#2b2b2b" stroke-width="1.1"/>
<line x1="474.9" y1="414.5" x2="474.9" y2="423" stroke="#2b2b2b" stroke-width="0.9" />
<rect x="471" y="423" width="8" height="7.5" fill="white" stroke="#2b2b2b" stroke-width="1.1"/>
<g stroke="#2b2b2b" stroke-width="1.2" fill="white">
<rect x="423.4" y="522.4" width="26.4" height="60.6"/>
<rect x="422.4" y="518.8" width="5.2" height="10.8"/>
<rect x="422.4" y="576.4" width="5.2" height="11.4"/>
<path d="M422.4,530.8 H449.8 M422.4,574.6 H449.8 M432.8,522.4 V583" fill="none"/>
</g>
<rect x="449.8" y="524.8" width="2.4" height="57" fill="#bbb"/>
<rect x="452.2" y="524.8" width="6.3" height="57" fill="#222"/>
<circle cx="432.6" cy="539.8" r="8.6" fill="white" stroke="#1e1e1e" stroke-width="2.2"/>
<line x1="432.8" y1="529" x2="432.8" y2="550" stroke="#2b2b2b" stroke-width="1" />
<circle cx="432.6" cy="566.5" r="9.2" fill="white" stroke="#2b2b2b" stroke-width="1.1"/>
<circle cx="432.6" cy="566.5" r="6" fill="white" stroke="#1e1e1e" stroke-width="2"/>
<circle cx="432.6" cy="566.5" r="3" fill="none" stroke="#333" stroke-width="0.9"/>
<line x1="426" y1="566.5" x2="440" y2="566.5" stroke="#888" stroke-width="0.8" />
<line x1="432.8" y1="560" x2="432.8" y2="573" stroke="#666" stroke-width="0.8" />
<rect x="458.5" y="513.4" width="5.1" height="81" fill="white" stroke="#2b2b2b" stroke-width="1.2"/>
<line x1="458.5" y1="519" x2="463.6" y2="519" stroke="#2b2b2b" stroke-width="1" />
<line x1="458.5" y1="589" x2="463.6" y2="589" stroke="#2b2b2b" stroke-width="1" />
<g stroke="#2b2b2b" stroke-width="1.2" fill="white">
<rect x="463.6" y="531.5" width="3.6" height="8.5"/>
<rect x="467.2" y="528.4" width="17.4" height="15.6"/>
<rect x="480.5" y="525" width="4.5" height="4"/>
<rect x="463.6" y="557" width="3.6" height="19"/>
<path d="M467.2,556.6 H484.6 V576.4 H467.2 Z"/>
</g>
<path d="M483.1,565 H485 V604.6 H483.1Z" fill="#222"/>
<path d="M480,576.4 L483.5,576.4 L484,580" fill="none" stroke="#333" stroke-width="1"/>
<path d="M467.2,566.6 L471.5,557.8" fill="none" stroke="#333" stroke-width="1"/>
<text x="351.1" y="545.7" font-family="Liberation Serif" font-size="20" fill="#2a2a2a" text-anchor="start" textLength="55.6" lengthAdjust="spacingAndGlyphs">4-G1/2</text>
<line x1="350" y1="548.6" x2="402" y2="548.6" stroke="#aaaaaa" stroke-width="1" />
<line x1="402" y1="548.6" x2="424.2" y2="560.8" stroke="#aaaaaa" stroke-width="1" />
<path d="M424.20,560.80 L417.25,558.92 L418.88,555.94Z" fill="#1e1e1e"/>
</svg>
</body></html>
